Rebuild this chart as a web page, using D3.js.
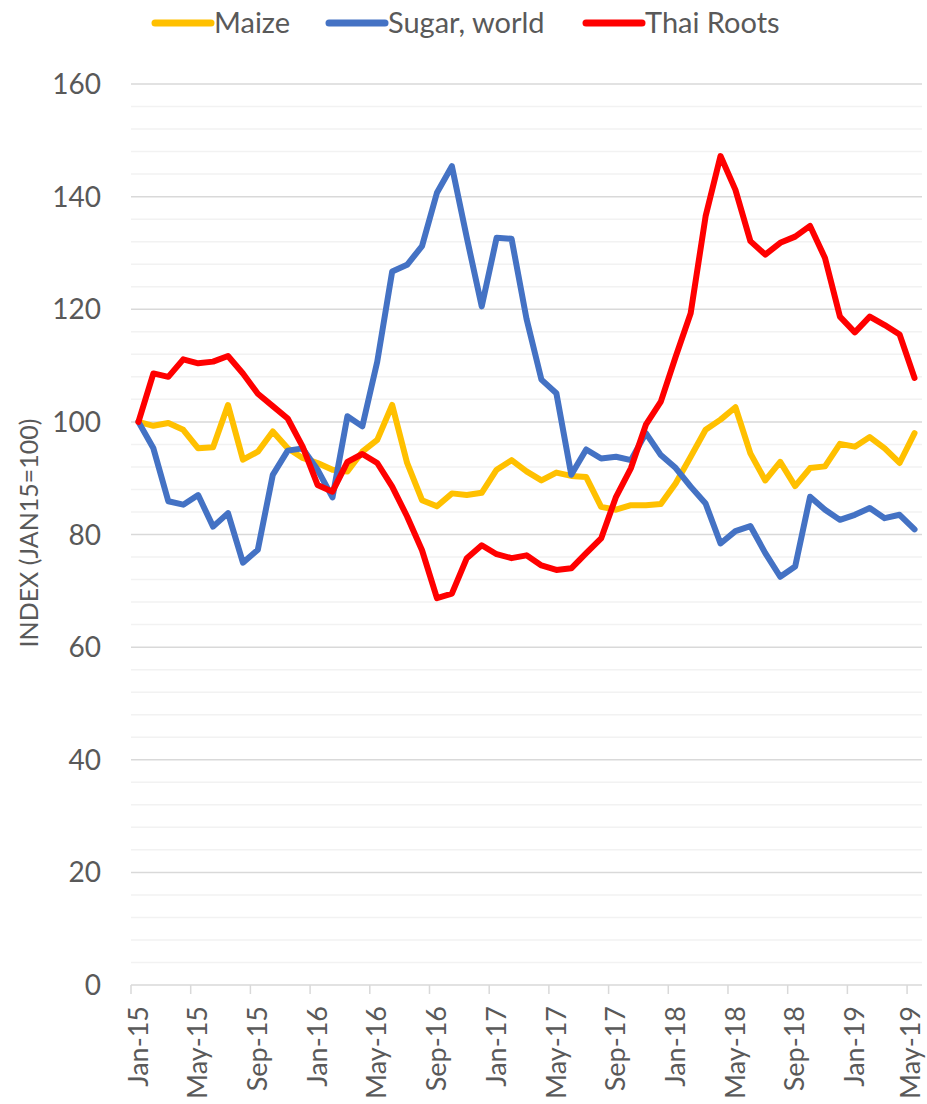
<!DOCTYPE html>
<html>
<head>
<meta charset="utf-8">
<script src="https://cdn.jsdelivr.net/npm/d3@7.9.0/dist/d3.min.js"></script>
<style>
  body { margin: 0; background: #fff; }
  svg text { font-family: Lato, "Open Sans", sans-serif; fill: #595959; }
</style>
</head>
<body>
<svg id="chart" width="927" height="1104"></svg>
<script>
// monthly categories Jan-15 .. May-19
const months = d3.timeMonth.range(new Date(2015, 0, 1), new Date(2019, 5, 1));
const fmt = d3.timeFormat("%b-%y");
const yTicks = [0, 20, 40, 60, 80, 100, 120, 140, 160];

const maize = [100, 99.3, 99.8, 98.6, 95.3, 95.5, 103.0, 93.3, 94.7, 98.3, 95.3, 93.6, 92.7,
  91.5, 91.2, 94.7, 96.8, 103.0, 92.7, 86.1, 85.0, 87.3, 87.0, 87.4, 91.5, 93.2, 91.2, 89.6,
  91.0, 90.4, 90.2, 84.9, 84.4, 85.2, 85.2, 85.4, 89.1, 93.8, 98.6, 100.4, 102.6,
  94.4, 89.6, 92.9, 88.6, 91.8, 92.1, 96.1, 95.6, 97.3, 95.3, 92.7, 98.0];

const sugar = [100, 95.3, 85.9, 85.3, 87.0, 81.4, 83.8, 75.0, 77.3, 90.6, 94.9, 95.3, 91.5, 86.6,
  101.0, 99.2, 110.7, 126.7, 127.9, 131.2, 140.7, 145.4, 132.7, 120.5, 132.7, 132.5, 118.3, 107.5,
  105.1, 90.6, 95.1, 93.5, 93.8, 93.2, 98.0, 94.1, 91.8, 88.5, 85.5, 78.4, 80.6,
  81.5, 76.7, 72.5, 74.3, 86.7, 84.4, 82.6, 83.5, 84.7, 82.9, 83.5, 80.9];

const thai = [100, 108.6, 108.0, 111.1, 110.4, 110.7, 111.7, 108.6, 105.0, 102.8, 100.6, 95.6, 88.8, 87.6,
  92.9, 94.3, 92.7, 88.5, 83.2, 77.2, 68.7, 69.5, 75.8, 78.1, 76.5, 75.8, 76.3, 74.5,
  73.7, 74.0, 76.7, 79.3, 86.7, 91.8, 99.5, 103.6, 111.6, 119.3, 136.5, 147.2, 141.2,
  132.1, 129.7, 131.8, 132.9, 134.8, 129.1, 118.7, 115.9, 118.7, 117.2, 115.5, 107.8];

const series = [
  { name: "Maize", values: maize, color: "#FFC000" },
  { name: "Sugar, world", values: sugar, color: "#4472C4" },
  { name: "Thai Roots", values: thai, color: "#FF0000" }
];

const svg = d3.select("#chart");
const plotLeft = 131, plotRight = 922, plotTop = 84, plotBottom = 985;

const x = d3.scaleBand().domain(d3.range(months.length)).range([plotLeft, plotRight]);
const y = d3.scaleLinear().domain([0, 160]).range([plotBottom, plotTop]);

// minor gridlines
svg.append("g").selectAll("line")
  .data(d3.range(4, 160, 4).filter(v => v % 20 !== 0))
  .join("line")
  .attr("x1", plotLeft).attr("x2", plotRight)
  .attr("y1", d => y(d)).attr("y2", d => y(d))
  .attr("stroke", "#F2F2F2").attr("stroke-width", 1.5);

// major gridlines
svg.append("g").selectAll("line")
  .data(yTicks.slice(1))
  .join("line")
  .attr("x1", plotLeft).attr("x2", plotRight)
  .attr("y1", d => y(d)).attr("y2", d => y(d))
  .attr("stroke", "#D9D9D9").attr("stroke-width", 1.5);

// y tick labels
svg.append("g").selectAll("text")
  .data(yTicks)
  .join("text")
  .attr("x", 101).attr("y", d => y(d))
  .attr("dy", "0.36em")
  .attr("text-anchor", "end")
  .attr("font-size", 28)
  .text(d => d);

svg.append("text")
  .attr("transform", "translate(29,533) rotate(-90)")
  .attr("dy", "0.36em")
  .attr("text-anchor", "middle")
  .attr("font-size", 25)
  .text("INDEX (JAN15=100)");

// x axis
svg.append("line")
  .attr("x1", plotLeft).attr("x2", plotRight)
  .attr("y1", plotBottom).attr("y2", plotBottom)
  .attr("stroke", "#D9D9D9").attr("stroke-width", 1.5);

const tickIdx = d3.range(0, months.length, 4);
svg.append("g").selectAll("line")
  .data(tickIdx)
  .join("line")
  .attr("x1", d => x(d)).attr("x2", d => x(d))
  .attr("y1", plotBottom).attr("y2", plotBottom + 9)
  .attr("stroke", "#D9D9D9").attr("stroke-width", 1.5);

// keep the last label inside the page
svg.append("g").selectAll("text")
  .data(tickIdx)
  .join("text")
  .attr("transform", d => `translate(${Math.min(x(d) + x.bandwidth() / 2, 911)},1006) rotate(-90)`)
  .attr("dy", "0.34em")
  .attr("text-anchor", "end")
  .attr("font-size", 27)
  .text(d => fmt(months[d]));

// lines
const line = d3.line()
  .x((d, i) => x(i) + x.bandwidth() / 2)
  .y(d => y(d));

svg.append("g").selectAll("path")
  .data(series)
  .join("path")
  .attr("d", d => line(d.values))
  .attr("fill", "none")
  .attr("stroke", d => d.color)
  .attr("stroke-width", 6)
  .attr("stroke-linejoin", "round")
  .attr("stroke-linecap", "round");

// legend
const legendX = [155, 329, 586];
const lg = svg.append("g").selectAll("g")
  .data(series)
  .join("g")
  .attr("transform", (d, i) => `translate(${legendX[i]},23)`);
lg.append("line")
  .attr("x1", 0).attr("x2", 56)
  .attr("stroke", d => d.color)
  .attr("stroke-width", 7)
  .attr("stroke-linecap", "round");
lg.append("text")
  .attr("x", 59).attr("dy", "0.36em")
  .attr("font-size", 29)
  .text(d => d.name);
</script>
</body>
</html>
